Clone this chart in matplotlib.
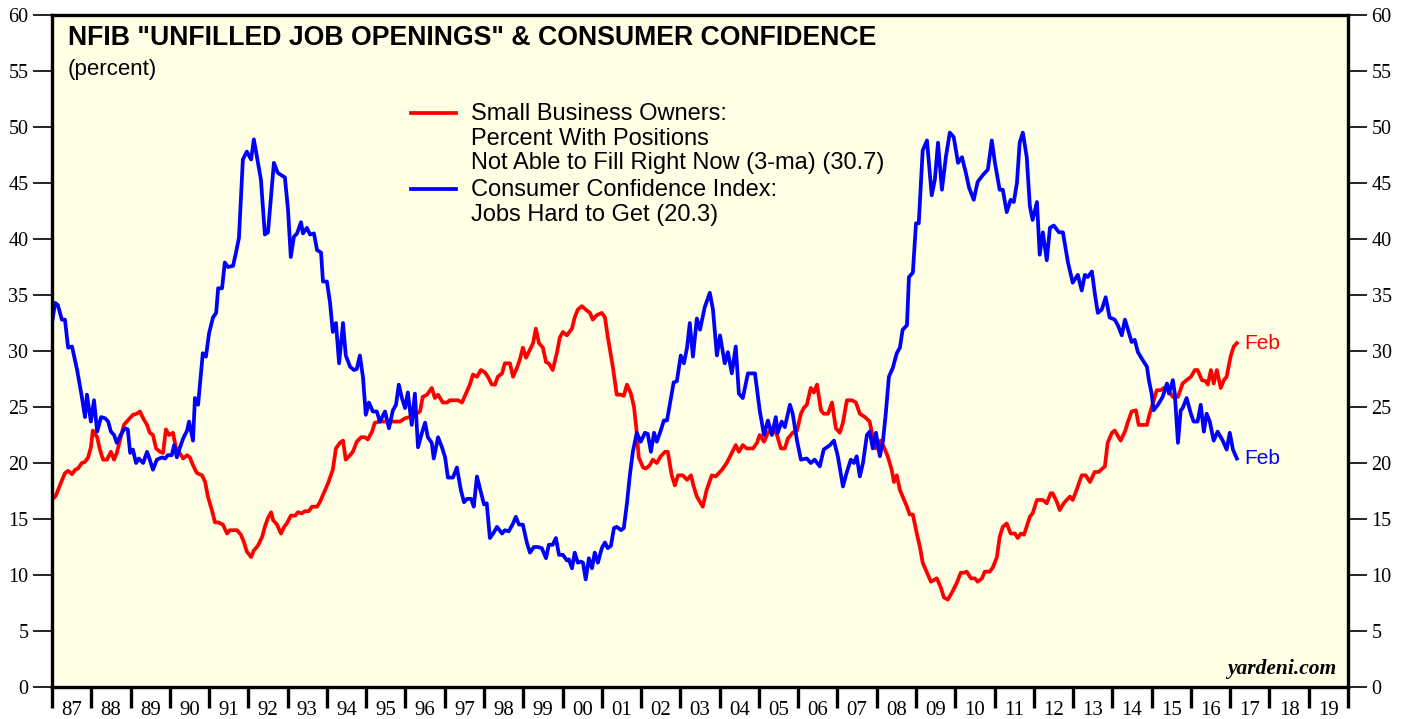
import matplotlib.pyplot as plt
import matplotlib.ticker as mticker

# NFIB small business owners: percent with positions not able to fill (3-ma)
nfib_dates = [
    1987.00, 1987.10, 1987.20, 1987.33, 1987.41, 1987.51, 1987.59, 1987.66, 1987.76, 1987.84,
    1987.92, 1987.99, 1988.04, 1988.15, 1988.22, 1988.30, 1988.40, 1988.50, 1988.58, 1988.65,
    1988.73, 1988.83, 1988.93, 1989.06, 1989.16, 1989.24, 1989.32, 1989.42, 1989.49, 1989.57,
    1989.65, 1989.75, 1989.83, 1989.90, 1989.98, 1990.08, 1990.16, 1990.23, 1990.34, 1990.44,
    1990.51, 1990.59, 1990.69, 1990.82, 1990.90, 1990.97, 1991.07, 1991.15, 1991.23, 1991.35,
    1991.46, 1991.53, 1991.71, 1991.81, 1991.89, 1991.96, 1992.07, 1992.14, 1992.24, 1992.35,
    1992.42, 1992.50, 1992.58, 1992.63, 1992.73, 1992.83, 1992.91, 1992.98, 1993.08, 1993.19,
    1993.26, 1993.36, 1993.44, 1993.54, 1993.62, 1993.75, 1993.82, 1993.92, 1994.03, 1994.15,
    1994.23, 1994.33, 1994.41, 1994.48, 1994.59, 1994.66, 1994.76, 1994.87, 1994.97, 1995.04,
    1995.15, 1995.22, 1995.35, 1995.60, 1995.86, 1995.99, 1996.11, 1996.24, 1996.37, 1996.44,
    1996.55, 1996.67, 1996.75, 1996.83, 1996.95, 1997.06, 1997.13, 1997.26, 1997.34, 1997.44,
    1997.54, 1997.64, 1997.72, 1997.82, 1997.92, 1998.02, 1998.10, 1998.20, 1998.28, 1998.35,
    1998.46, 1998.53, 1998.66, 1998.74, 1998.84, 1998.91, 1998.99, 1999.07, 1999.14, 1999.25,
    1999.32, 1999.40, 1999.50, 1999.58, 1999.65, 1999.75, 1999.86, 1999.93, 2000.01, 2000.11,
    2000.24, 2000.31, 2000.39, 2000.49, 2000.59, 2000.70, 2000.77, 2000.87, 2001.00, 2001.08,
    2001.15, 2001.28, 2001.38, 2001.49, 2001.56, 2001.64, 2001.74, 2001.82, 2001.89, 2001.94,
    2002.05, 2002.12, 2002.22, 2002.30, 2002.40, 2002.50, 2002.61, 2002.68, 2002.78, 2002.86,
    2002.94, 2003.06, 2003.17, 2003.27, 2003.34, 2003.42, 2003.57, 2003.67, 2003.80, 2003.90,
    2004.06, 2004.18, 2004.31, 2004.41, 2004.49, 2004.59, 2004.69, 2004.85, 2004.95, 2005.02,
    2005.13, 2005.23, 2005.36, 2005.46, 2005.56, 2005.66, 2005.74, 2005.86, 2005.97, 2006.07,
    2006.14, 2006.22, 2006.32, 2006.40, 2006.48, 2006.58, 2006.65, 2006.76, 2006.86, 2006.96,
    2007.06, 2007.14, 2007.24, 2007.37, 2007.47, 2007.57, 2007.70, 2007.82, 2007.90, 2007.98,
    2008.10, 2008.16, 2008.28, 2008.38, 2008.44, 2008.51, 2008.59, 2008.66, 2008.77, 2008.84,
    2008.92, 2009.02, 2009.10, 2009.17, 2009.28, 2009.38, 2009.53, 2009.63, 2009.71, 2009.81,
    2009.91, 2010.04, 2010.14, 2010.22, 2010.29, 2010.40, 2010.50, 2010.57, 2010.68, 2010.75,
    2010.88, 2010.96, 2011.06, 2011.13, 2011.21, 2011.31, 2011.41, 2011.52, 2011.59, 2011.67,
    2011.75, 2011.90, 2011.97, 2012.08, 2012.23, 2012.33, 2012.43, 2012.48, 2012.59, 2012.66,
    2012.76, 2012.92, 2012.99, 2013.09, 2013.22, 2013.32, 2013.43, 2013.55, 2013.65, 2013.81,
    2013.88, 2013.99, 2014.06, 2014.21, 2014.32, 2014.39, 2014.49, 2014.60, 2014.67, 2014.88,
    2014.95, 2015.03, 2015.13, 2015.23, 2015.31, 2015.41, 2015.54, 2015.67, 2015.79, 2015.89,
    2016.00, 2016.10, 2016.17, 2016.28, 2016.38, 2016.43, 2016.51, 2016.58, 2016.66, 2016.76,
    2016.84, 2016.91, 2017.01, 2017.09, 2017.17,
]
nfib_values = [
    16.7, 17.1, 18.0, 19.1, 19.3, 19.0, 19.4, 19.5, 20.0, 20.1,
    20.5, 21.4, 22.9, 22.3, 21.2, 20.3, 20.3, 21.0, 20.3, 20.9,
    22.0, 23.4, 23.8, 24.3, 24.4, 24.6, 24.0, 23.4, 22.7, 22.5,
    21.3, 21.0, 20.9, 23.0, 22.5, 22.7, 21.3, 21.0, 20.4, 20.7,
    20.5, 19.8, 19.1, 18.9, 18.3, 17.0, 15.8, 14.7, 14.7, 14.5,
    13.7, 14.0, 14.0, 13.6, 12.9, 12.1, 11.6, 12.2, 12.6, 13.4,
    14.3, 15.1, 15.6, 14.9, 14.5, 13.7, 14.3, 14.6, 15.3, 15.3,
    15.6, 15.5, 15.7, 15.7, 16.1, 16.1, 16.5, 17.3, 18.2, 19.4,
    21.3, 21.8, 22.0, 20.3, 20.7, 21.0, 21.9, 22.3, 22.3, 22.1,
    22.8, 23.6, 23.7, 23.7, 23.7, 24.0, 24.1, 24.3, 24.6, 25.9,
    26.1, 26.7, 25.8, 26.1, 25.4, 25.4, 25.6, 25.6, 25.6, 25.4,
    26.2, 27.0, 27.9, 27.7, 28.3, 28.1, 27.7, 27.0, 27.0, 27.7,
    28.0, 28.9, 28.9, 27.7, 28.5, 29.2, 30.3, 29.4, 29.9, 30.7,
    32.0, 30.7, 30.3, 29.0, 28.9, 28.3, 29.9, 31.2, 31.7, 31.4,
    32.0, 33.0, 33.7, 34.0, 33.7, 33.4, 32.8, 33.2, 33.4, 33.0,
    31.3, 28.6, 26.1, 26.1, 26.0, 27.0, 26.2, 25.0, 22.7, 20.5,
    19.6, 19.5, 19.8, 20.3, 20.0, 20.6, 21.0, 21.0, 18.9, 18.0,
    18.9, 18.9, 18.5, 18.9, 17.9, 17.0, 16.1, 17.6, 18.9, 18.8,
    19.4, 20.0, 20.9, 21.6, 21.0, 21.6, 21.3, 21.3, 21.8, 22.5,
    21.9, 22.7, 23.1, 22.5, 21.3, 21.3, 22.2, 22.7, 22.9, 24.4,
    24.9, 25.2, 26.7, 26.3, 27.0, 24.7, 24.4, 24.4, 25.4, 23.1,
    22.7, 23.6, 25.6, 25.6, 25.4, 24.4, 24.1, 23.7, 22.3, 21.3,
    22.0, 21.6, 20.6, 19.4, 18.3, 18.9, 17.6, 17.0, 16.1, 15.4,
    15.4, 13.7, 12.5, 11.1, 10.2, 9.4, 9.7, 8.9, 8.0, 7.8,
    8.4, 9.3, 10.2, 10.2, 10.3, 9.7, 9.7, 9.4, 9.7, 10.3,
    10.3, 10.7, 11.6, 13.4, 14.3, 14.6, 13.7, 13.7, 13.3, 13.7,
    13.6, 15.2, 15.5, 16.7, 16.7, 16.4, 17.3, 17.3, 16.5, 15.8,
    16.4, 17.0, 16.7, 17.6, 18.9, 18.9, 18.3, 19.2, 19.2, 19.7,
    21.8, 22.7, 22.9, 22.0, 22.8, 23.6, 24.6, 24.7, 23.4, 23.4,
    24.4, 25.3, 26.5, 26.5, 26.7, 26.6, 25.9, 25.9, 27.1, 27.4,
    27.7, 28.3, 28.3, 27.4, 27.3, 27.0, 28.3, 27.1, 28.3, 26.7,
    27.4, 27.7, 29.5, 30.4, 30.7,
]

# Consumer Confidence Index: jobs hard to get
cci_dates = [
    1987.00, 1987.08, 1987.15, 1987.25, 1987.33, 1987.41, 1987.51, 1987.64, 1987.76, 1987.84,
    1987.89, 1987.99, 1988.07, 1988.15, 1988.25, 1988.35, 1988.43, 1988.50, 1988.58, 1988.65,
    1988.78, 1988.86, 1988.93, 1988.99, 1989.06, 1989.14, 1989.21, 1989.32, 1989.42, 1989.49,
    1989.57, 1989.67, 1989.80, 1989.88, 1989.95, 1990.05, 1990.11, 1990.18, 1990.26, 1990.34,
    1990.44, 1990.49, 1990.59, 1990.64, 1990.72, 1990.84, 1990.92, 1991.00, 1991.10, 1991.18,
    1991.23, 1991.33, 1991.40, 1991.48, 1991.61, 1991.68, 1991.76, 1991.86, 1991.96, 1992.07,
    1992.14, 1992.22, 1992.32, 1992.42, 1992.50, 1992.65, 1992.75, 1992.93, 1993.01, 1993.08,
    1993.16, 1993.24, 1993.34, 1993.39, 1993.49, 1993.57, 1993.67, 1993.75, 1993.85, 1993.90,
    1994.00, 1994.08, 1994.15, 1994.23, 1994.31, 1994.41, 1994.48, 1994.59, 1994.69, 1994.76,
    1994.84, 1994.92, 1994.99, 1995.07, 1995.17, 1995.27, 1995.35, 1995.48, 1995.58, 1995.68,
    1995.76, 1995.83, 1995.91, 1995.99, 1996.06, 1996.16, 1996.24, 1996.32, 1996.42, 1996.50,
    1996.57, 1996.67, 1996.72, 1996.83, 1996.93, 1997.01, 1997.08, 1997.21, 1997.31, 1997.41,
    1997.49, 1997.57, 1997.67, 1997.74, 1997.82, 1997.92, 1998.00, 1998.07, 1998.15, 1998.25,
    1998.33, 1998.46, 1998.53, 1998.63, 1998.74, 1998.81, 1998.89, 1998.99, 1999.09, 1999.17,
    1999.27, 1999.37, 1999.47, 1999.58, 1999.65, 1999.75, 1999.83, 1999.91, 2000.01, 2000.11,
    2000.16, 2000.24, 2000.31, 2000.39, 2000.47, 2000.52, 2000.59, 2000.67, 2000.75, 2000.82,
    2000.90, 2001.00, 2001.08, 2001.15, 2001.23, 2001.31, 2001.38, 2001.49, 2001.56, 2001.64,
    2001.71, 2001.79, 2001.89, 2001.99, 2002.10, 2002.17, 2002.25, 2002.33, 2002.40, 2002.50,
    2002.58, 2002.66, 2002.76, 2002.83, 2002.91, 2003.01, 2003.09, 2003.17, 2003.24, 2003.32,
    2003.42, 2003.50, 2003.62, 2003.75, 2003.83, 2003.93, 2004.01, 2004.13, 2004.21, 2004.31,
    2004.41, 2004.49, 2004.59, 2004.72, 2004.90, 2005.02, 2005.13, 2005.23, 2005.33, 2005.43,
    2005.48, 2005.58, 2005.66, 2005.79, 2005.86, 2005.97, 2006.07, 2006.22, 2006.32, 2006.42,
    2006.55, 2006.65, 2006.81, 2006.91, 2007.01, 2007.14, 2007.24, 2007.34, 2007.42, 2007.49,
    2007.57, 2007.65, 2007.75, 2007.82, 2007.90, 2007.98, 2008.08, 2008.16, 2008.23, 2008.31,
    2008.41, 2008.51, 2008.59, 2008.66, 2008.77, 2008.82, 2008.92, 2009.00, 2009.07, 2009.17,
    2009.28, 2009.40, 2009.48, 2009.56, 2009.66, 2009.76, 2009.86, 2009.96, 2010.07, 2010.17,
    2010.27, 2010.35, 2010.47, 2010.57, 2010.70, 2010.83, 2010.93, 2011.01, 2011.13, 2011.21,
    2011.31, 2011.41, 2011.49, 2011.57, 2011.64, 2011.72, 2011.82, 2011.90, 2011.97, 2012.08,
    2012.15, 2012.23, 2012.33, 2012.41, 2012.51, 2012.64, 2012.74, 2012.87, 2012.99, 2013.12,
    2013.22, 2013.30, 2013.37, 2013.48, 2013.55, 2013.63, 2013.73, 2013.83, 2013.93, 2014.06,
    2014.14, 2014.24, 2014.32, 2014.39, 2014.49, 2014.57, 2014.65, 2014.77, 2014.88, 2014.93,
    2015.00, 2015.05, 2015.16, 2015.28, 2015.39, 2015.44, 2015.54, 2015.59, 2015.67, 2015.74,
    2015.79, 2015.89, 2016.00, 2016.07, 2016.17, 2016.25, 2016.33, 2016.40, 2016.48, 2016.58,
    2016.68, 2016.81, 2016.91, 2016.99, 2017.07, 2017.17,
]
cci_values = [
    32.5, 34.3, 34.1, 32.8, 32.8, 30.3, 30.4, 28.3, 25.9, 24.1,
    26.1, 23.7, 25.6, 22.8, 24.1, 24.0, 23.7, 22.8, 22.5, 21.8,
    22.7, 23.1, 23.0, 20.9, 21.2, 20.0, 20.4, 20.0, 21.0, 20.3,
    19.4, 20.3, 20.5, 20.4, 20.7, 20.7, 21.6, 20.5, 21.4, 22.2,
    22.9, 23.7, 22.0, 25.8, 25.2, 29.8, 29.5, 31.6, 33.0, 33.4,
    35.6, 35.6, 37.9, 37.5, 37.6, 38.7, 40.1, 47.1, 47.8, 47.1,
    48.9, 47.3, 45.3, 40.4, 40.6, 46.8, 45.9, 45.5, 42.6, 38.4,
    40.2, 40.5, 41.5, 40.5, 41.0, 40.4, 40.5, 39.0, 38.8, 36.2,
    36.2, 34.3, 31.7, 32.5, 28.9, 32.5, 29.6, 28.6, 28.3, 28.4,
    29.6, 27.6, 24.3, 25.4, 24.6, 24.6, 23.7, 24.6, 23.1, 24.7,
    25.2, 27.0, 25.8, 24.9, 26.3, 23.4, 26.2, 21.4, 22.7, 23.6,
    22.3, 21.8, 20.4, 22.3, 21.4, 20.5, 18.7, 18.7, 19.6, 17.6,
    16.5, 16.8, 16.8, 16.1, 18.8, 17.4, 16.3, 16.4, 13.3, 13.8,
    14.3, 13.7, 14.0, 13.9, 14.6, 15.2, 14.5, 14.5, 12.9, 12.0,
    12.5, 12.5, 12.4, 11.5, 12.7, 12.7, 13.3, 11.8, 11.8, 11.3,
    11.4, 10.6, 12.0, 11.1, 11.2, 11.1, 9.6, 11.5, 10.6, 12.0,
    11.1, 12.4, 12.9, 12.4, 12.6, 14.2, 14.3, 14.0, 14.2, 16.4,
    18.8, 21.0, 22.7, 21.9, 22.7, 22.6, 21.0, 22.7, 21.9, 22.9,
    23.8, 23.8, 25.8, 27.2, 27.3, 29.6, 28.9, 30.3, 32.5, 29.5,
    32.9, 31.9, 33.9, 35.2, 33.7, 29.6, 31.4, 28.9, 29.9, 28.0,
    30.4, 26.2, 25.8, 28.0, 28.0, 24.7, 22.5, 23.8, 22.5, 24.1,
    22.7, 23.7, 23.2, 25.2, 24.4, 22.0, 20.3, 20.4, 20.0, 20.3,
    19.7, 21.2, 21.6, 22.0, 20.6, 17.9, 19.2, 20.3, 20.0, 20.6,
    18.8, 20.0, 22.5, 22.8, 21.3, 22.7, 20.6, 22.0, 24.4, 27.7,
    28.5, 29.8, 30.3, 31.9, 32.3, 36.6, 37.0, 41.4, 41.4, 47.9,
    48.8, 43.9, 45.3, 48.6, 44.4, 47.3, 49.5, 49.1, 46.8, 47.3,
    45.9, 44.6, 43.5, 45.1, 45.7, 46.2, 48.8, 46.8, 44.4, 44.4,
    42.4, 43.5, 43.3, 45.0, 48.6, 49.5, 47.3, 42.9, 41.7, 43.3,
    38.6, 40.6, 38.1, 41.0, 41.2, 40.6, 40.6, 37.9, 36.1, 36.8,
    35.4, 36.8, 36.6, 37.1, 35.2, 33.4, 33.7, 34.8, 33.0, 32.8,
    32.3, 31.4, 32.8, 32.0, 30.8, 31.0, 29.9, 29.2, 28.6, 27.4,
    26.2, 24.7, 25.2, 25.9, 27.1, 26.2, 27.4, 26.2, 21.8, 24.7,
    24.9, 25.8, 24.4, 23.7, 23.7, 25.2, 22.8, 24.4, 23.7, 22.0,
    22.8, 22.0, 21.2, 22.7, 21.2, 20.4,
]

year_labels = ['87', '88', '89', '90', '91', '92', '93', '94', '95', '96', '97',
               '98', '99', '00', '01', '02', '03', '04', '05', '06', '07', '08',
               '09', '10', '11', '12', '13', '14', '15', '16', '17', '18', '19']

legend_red = ["Small Business Owners:", "Percent With Positions",
              "Not Able to Fill Right Now (3-ma) (30.7)"]
legend_blue = ["Consumer Confidence Index:", "Jobs Hard to Get (20.3)"]

fig = plt.figure(figsize=(14.07, 7.19), dpi=100)
ax = fig.add_axes([52 / 1407, 32 / 719, 1296 / 1407, 672 / 719])
ax.set_facecolor('#FFFFE6')

ax.plot(nfib_dates, nfib_values, color='#FF0000', lw=2.7, solid_joinstyle='round')
ax.plot(cci_dates, cci_values, color='#0000FF', lw=2.7, solid_joinstyle='round')

ax.set_xlim(1987, 2020)
ax.set_ylim(0, 60)

for s in ax.spines.values():
    s.set_linewidth(2.4)
    s.set_color('black')

serif = 'Liberation Serif'
sans = 'Liberation Sans'

# y axis both sides
ax.yaxis.set_major_locator(mticker.MultipleLocator(5))
ax.tick_params(axis='y', which='major', direction='out', length=14, width=1.2,
               labelsize=14.5, left=True, right=True, labelleft=True, labelright=True, pad=3)
for lab in ax.get_yticklabels():
    lab.set_fontfamily(serif)

# x axis: long tick at every year, label centred between ticks
years = list(range(1987, 2021))
ax.set_xticks(years)
ax.set_xticklabels([])
ax.tick_params(axis='x', which='major', direction='out', length=15, width=2.4)
ax.set_xticks([y + 0.5 for y in years[:-1]], minor=True)
ax.set_xticklabels(year_labels, minor=True, fontfamily=serif, fontsize=15)
ax.tick_params(axis='x', which='minor', length=0, pad=10)

ax.text(0.012, 0.985, 'NFIB "UNFILLED JOB OPENINGS" & CONSUMER CONFIDENCE',
        transform=ax.transAxes, fontfamily=sans, fontweight='bold', fontsize=19.2,
        va='top', ha='left')
ax.text(0.012, 0.935, '(percent)', transform=ax.transAxes, fontfamily=sans,
        fontsize=16, va='top', ha='left')

# legend drawn by hand: short lines + one text row per line
ax.plot([0.277, 0.312], [0.854, 0.854], transform=ax.transAxes, color='#FF0000', lw=2.7)
ax.plot([0.277, 0.312], [0.741, 0.741], transform=ax.transAxes, color='#0000FF', lw=2.7)
row_y = [0.852, 0.816, 0.780]
for txt, yy in zip(legend_red, row_y):
    ax.text(0.323, yy, txt, transform=ax.transAxes, fontfamily=sans, fontsize=17,
            va='center', ha='left')
for txt, yy in zip(legend_blue, [0.739, 0.703]):
    ax.text(0.323, yy, txt, transform=ax.transAxes, fontfamily=sans, fontsize=17,
            va='center', ha='left')

ax.annotate('Feb', (nfib_dates[-1], nfib_values[-1]), xytext=(5, 0), textcoords='offset points',
            color='#FF0000', fontfamily=sans, fontsize=15, va='center', ha='left')
ax.annotate('Feb', (cci_dates[-1], cci_values[-1]), xytext=(5, 0), textcoords='offset points',
            color='#0000FF', fontfamily=sans, fontsize=15, va='center', ha='left')

ax.text(0.991, 0.012, 'yardeni.com', transform=ax.transAxes, fontfamily=serif,
        fontweight='bold', fontstyle='italic', fontsize=15.5, va='bottom', ha='right')

fig.savefig('out.png', dpi=100)
